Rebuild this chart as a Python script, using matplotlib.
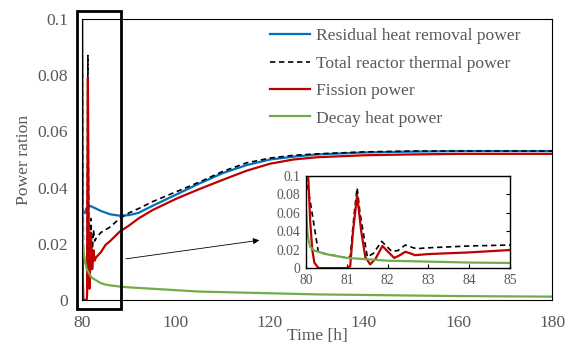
import matplotlib
matplotlib.use("Agg")
import matplotlib.pyplot as plt
import matplotlib.patches as mpatches
from matplotlib.ticker import FuncFormatter

plt.rcParams["font.family"] = ["Liberation Serif", "DejaVu Serif"]

GREY = "#595959"
BLUE = "#0070C0"
RED = "#C00000"
GREEN = "#70AD47"

# ---------------------------------------------------------------------------
# Data

t_rhr = [80.6, 81, 81.5, 82, 83, 84, 86, 88, 90, 92, 95, 100, 105, 110, 115,
         120, 125, 130, 140, 150, 160, 170, 180]
p_rhr = [0.031, 0.0328, 0.0335, 0.0333, 0.0325, 0.0317, 0.0305, 0.030, 0.0302,
         0.031, 0.0335, 0.0375, 0.0415, 0.0452, 0.048, 0.050, 0.051, 0.0518,
         0.0525, 0.0528, 0.053, 0.053, 0.053]

t_tot = [80.0, 80.3, 81.0, 81.08, 81.18, 81.25, 81.32, 81.5, 81.65, 81.85, 82.1,
         82.25, 82.43, 82.7, 83, 84, 85, 86, 88, 90, 92, 95, 100, 105, 110, 115,
         120, 125, 130, 140, 150, 160, 170, 180]
p_tot = [0.1, 0.017, 0.011, 0.012, 0.06, 0.087, 0.06, 0.012, 0.016, 0.029, 0.018,
         0.019, 0.025, 0.021, 0.022, 0.024, 0.025, 0.026, 0.029, 0.031, 0.0325,
         0.035, 0.0385, 0.042, 0.0458, 0.0488, 0.0505, 0.0515, 0.052, 0.0527,
         0.053, 0.053, 0.053, 0.053]

t_fis = [80.0, 80.05, 80.1, 80.15, 80.2, 80.3, 81.0, 81.08, 81.15, 81.25, 81.35,
         81.45, 81.57, 81.7, 81.87, 82.0, 82.16, 82.3, 82.43, 82.55, 82.67, 83.0,
         84, 85, 86, 88, 90, 92, 95, 100, 105, 110, 115, 120, 125, 130, 140, 150,
         160, 170, 180]
p_fis = [0.1, 0.1, 0.05, 0.02, 0.006, 0.0, 0.0, 0.002, 0.04, 0.079, 0.04, 0.012,
         0.004, 0.01, 0.024, 0.018, 0.011, 0.014, 0.0177, 0.016, 0.014, 0.0152,
         0.017, 0.0196, 0.021, 0.0243, 0.0265, 0.029, 0.032, 0.036, 0.0395,
         0.0428, 0.046, 0.0485, 0.050, 0.0508, 0.0515, 0.0518, 0.052, 0.052, 0.052]

t_dec = [80.0, 80.03, 80.06, 80.1, 80.2, 80.5, 81, 82, 83, 84, 85, 86, 88, 90,
         95, 100, 105, 110, 120, 130, 140, 160, 180]
p_dec = [0.061, 0.04, 0.03, 0.023, 0.019, 0.015, 0.011, 0.008, 0.007, 0.006,
         0.0055, 0.0052, 0.0048, 0.0045, 0.004, 0.0035, 0.003, 0.0028, 0.0024,
         0.002, 0.0018, 0.0014, 0.0012]

labels = ["Residual heat removal power", "Total reactor thermal power",
          "Fission power", "Decay heat power"]

y_ticks = [0, 0.02, 0.04, 0.06, 0.08, 0.1]
x_ticks = [80, 100, 120, 140, 160, 180]
x_ticks_inset = [80, 81, 82, 83, 84, 85]


def fmt(v, _):
    return "0" if abs(v) < 1e-9 else f"{v:g}"


# ---------------------------------------------------------------------------

fig = plt.figure(figsize=(5.68, 3.45), dpi=100)
ax = fig.add_axes([0.1444, 0.1304, 0.8276, 0.8146])

dash = (0, (3.2, 2.2))
ax.plot(t_rhr, p_rhr, color=BLUE, lw=1.6, label=labels[0])
ax.plot(t_tot, p_tot, color="black", lw=1.2, ls=dash, label=labels[1])
ax.plot(t_fis, p_fis, color=RED, lw=1.6, label=labels[2])
ax.plot(t_dec, p_dec, color=GREEN, lw=1.6, label=labels[3])

ax.set_xlim(80, 180)
ax.set_ylim(0, 0.1)
ax.set_xticks(x_ticks)
ax.set_yticks(y_ticks)
ax.yaxis.set_major_formatter(FuncFormatter(fmt))
ax.tick_params(length=0, labelsize=12.6, labelcolor=GREY)
ax.tick_params(axis="y", pad=10)
ax.tick_params(axis="x", pad=11)
for s in ax.spines.values():
    s.set_linewidth(0.8)
ax.set_xlabel("Time [h]", fontsize=12.6, color=GREY, labelpad=-2.5)
ax.set_ylabel("Power ration", fontsize=12.6, color=GREY, labelpad=4)

ax.legend(loc="upper left", bbox_to_anchor=(0.475, 0.919),
          bbox_transform=fig.transFigure, frameon=False, fontsize=12.6,
          labelcolor=GREY, borderpad=0, borderaxespad=0,
          handlelength=2.3, handletextpad=0.34, labelspacing=0.64)

# highlight box around the early transient
rect = mpatches.Rectangle((78.9, -0.0032), 9.4, 0.1061, fill=False,
                          edgecolor="black", lw=2, clip_on=False, zorder=5)
ax.add_patch(rect)

ax.annotate("", xy=(118.3, 0.0214), xytext=(88.7, 0.0145),
            arrowprops=dict(arrowstyle="-|>", color="black", lw=0.6,
                            mutation_scale=9))

# inset zoom of the first hours
ins = fig.add_axes([0.539, 0.223, 0.359, 0.267])
ins.plot(t_tot, p_tot, color="black", lw=1.2, ls=dash)
ins.plot(t_fis, p_fis, color=RED, lw=1.6)
ins.plot(t_dec, p_dec, color=GREEN, lw=1.6)
ins.set_xlim(80, 85)
ins.set_ylim(0, 0.1)
ins.set_xticks(x_ticks_inset)
ins.set_yticks(y_ticks)
ins.yaxis.set_major_formatter(FuncFormatter(fmt))
ins.tick_params(direction="in", length=3, labelsize=9.8, labelcolor=GREY,
                left=False, right=True, pad=4)
for s in ins.spines.values():
    s.set_linewidth(1.0)

fig.savefig("out.png", dpi=100)
